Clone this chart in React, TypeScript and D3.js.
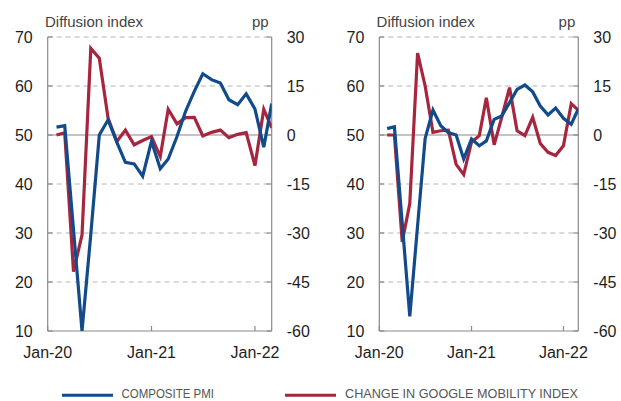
import React from 'react';
import * as d3 from 'd3';

// monthly observations, Feb-20 .. Mar-22
const months = [
    '2020-02', '2020-03', '2020-04', '2020-05', '2020-06', '2020-07', '2020-08', '2020-09', '2020-10', '2020-11', '2020-12',
    '2021-01', '2021-02', '2021-03', '2021-04', '2021-05', '2021-06', '2021-07', '2021-08', '2021-09', '2021-10', '2021-11', '2021-12',
    '2022-01', '2022-02', '2022-03'
];

const leftPmi = [51.6, 51.9, 30.7, 10.0, 29.7, 50.0, 53.1, 48.5, 44.4, 44.1, 41.6,
    48.7, 43.1, 45.1, 49.7, 54.8, 58.9, 62.5, 61.3, 60.6, 57.2, 56.2, 58.4,
    55.3, 47.5, 56.4];
const leftMobility = [0.0, 0.7, -41.8, -30.6, 26.5, 23.5, 5.1, -2.0, 1.5, -3.0, -1.7,
    -0.5, -6.6, 7.9, 3.4, 5.3, 5.4, -0.3, 0.8, 1.5, -0.8, 0.2, 0.7,
    -9.4, 7.9, 2.2];

const rightPmi = [51.3, 51.7, 32.0, 13.0, 31.5, 49.3, 55.1, 51.9, 50.5, 50.0, 45.1,
    49.2, 47.8, 48.8, 53.2, 53.9, 56.6, 59.3, 60.2, 58.8, 55.9, 54.1, 55.5,
    53.4, 52.2, 55.3];
const rightMobility = [0.0, 0.0, -32.7, -21.0, 25.1, 15.0, 0.8, 1.3, 1.5, -9.0, -12.1,
    -2.2, -0.2, 11.4, -3.0, 5.4, 14.5, 1.3, -0.2, 5.4, -2.6, -5.3, -6.3,
    -3.3, 9.6, 7.6];

const leftTicks = [10, 20, 30, 40, 50, 60, 70];
const rightTicks = [-60, -45, -30, -15, 0, 15, 30];
const xTickLabels = ['Jan-20', 'Jan-21', 'Jan-22'];
const xTickDates = ['2020-01', '2021-01', '2022-01'];
const legendLabels = ['COMPOSITE PMI', 'CHANGE IN GOOGLE MOBILITY INDEX'];

const BLUE = '#114b8a';
const RED = '#a6263f';
const FONT = '"Liberation Sans", Arial, Helvetica, sans-serif';

const parseMonth = d3.timeParse('%Y-%m');
const top = 37, bottom = 331;

function Panel({ id, x0, x1, pmi, mobility }) {
    const x = d3.scaleTime()
        .domain([parseMonth('2020-01'), parseMonth('2022-03')])
        .range([x0, x1]);
    const yL = d3.scaleLinear().domain([10, 70]).range([bottom, top]);
    const yR = d3.scaleLinear().domain([-60, 30]).range([bottom, top]);
    const dates = months.map(parseMonth);

    const pmiLine = d3.line().x((d, i) => x(dates[i])).y(d => yL(d));
    const mobLine = d3.line().x((d, i) => x(dates[i])).y(d => yR(d));

    return (
        <g>
            <defs>
                <clipPath id={`clip-${id}`}>
                    <rect x={x0} y={top - 2} width={x1 - x0} height={bottom - top + 2} />
                </clipPath>
            </defs>
            {/* grid */}
            {leftTicks.filter(t => t !== 10 && t !== 50).map(t => (
                <line key={t} x1={x0} x2={x1} y1={yL(t)} y2={yL(t)}
                      stroke="#b4b4b4" strokeWidth={1} strokeDasharray="5,4" />
            ))}
            <line x1={x0} x2={x1} y1={yL(50)} y2={yL(50)} stroke="#8a8a8a" strokeWidth={1.2} />
            <line x1={x0} x2={x1} y1={bottom} y2={bottom} stroke="#8a8a8a" strokeWidth={1.2} />
            <line x1={x0} x2={x0} y1={top} y2={bottom} stroke="#8a8a8a" strokeWidth={1.2} />
            <line x1={x1} x2={x1} y1={top} y2={bottom} stroke="#8a8a8a" strokeWidth={1.2} />
            {leftTicks.map(t => (
                <line key={'l' + t} x1={x0} x2={x0 + 5} y1={yL(t)} y2={yL(t)} stroke="#8a8a8a" strokeWidth={1.2} />
            ))}
            {rightTicks.map(t => (
                <line key={'r' + t} x1={x1 - 5} x2={x1} y1={yR(t)} y2={yR(t)} stroke="#8a8a8a" strokeWidth={1.2} />
            ))}
            {xTickDates.map(d => (
                <line key={d} x1={x(parseMonth(d))} x2={x(parseMonth(d))} y1={bottom} y2={bottom - 5}
                      stroke="#8a8a8a" strokeWidth={1.2} />
            ))}

            {/* series */}
            <g clipPath={`url(#clip-${id})`} fill="none" strokeWidth={3.2} strokeLinejoin="miter">
                <path d={mobLine(mobility)} stroke={RED} />
                <path d={pmiLine(pmi)} stroke={BLUE} />
            </g>

            {/* labels */}
            <g fontFamily={FONT} fontSize={16} fill="#1e1e1e">
                {leftTicks.map(t => (
                    <text key={t} x={x0 - 15} y={yL(t)} dy="0.36em" textAnchor="end">{t}</text>
                ))}
                {rightTicks.map(t => (
                    <text key={t} x={x1 + 15} y={yR(t)} dy="0.36em" textAnchor="start">{t}</text>
                ))}
                {xTickDates.map((d, i) => (
                    <text key={d} x={x(parseMonth(d))} y={358} textAnchor="middle">{xTickLabels[i]}</text>
                ))}
            </g>
            <g fontFamily={FONT} fontSize={15} fill="#444">
                <text x={x0 - 2.7} y={26.5}>Diffusion index</text>
                <text x={x1 - 3} y={26.5} textAnchor="end">pp</text>
            </g>
        </g>
    );
}

function Legend() {
    const items = [
        { label: legendLabels[0], color: BLUE, lx: 62, tx: 121.5, tw: 92.5 },
        { label: legendLabels[1], color: RED, lx: 285, tx: 345, tw: 233 }
    ];
    return (
        <g>
            {items.map(it => (
                <g key={it.label}>
                    <line x1={it.lx} x2={it.lx + 51} y1={395.2} y2={395.2} stroke={it.color} strokeWidth={3} />
                    <text x={it.tx} y={397.5} fontFamily={FONT} fontSize={13.5} fill="#555"
                          textLength={it.tw} lengthAdjust="spacingAndGlyphs">{it.label}</text>
                </g>
            ))}
        </g>
    );
}

export default function App() {
    return (
        <svg width={621} height={401} style={{ position: 'absolute', left: 0, top: 0, background: '#fff' }}>
            <Panel id="a" x0={47.7} x1={271.7} pmi={leftPmi} mobility={leftMobility} />
            <Panel id="b" x0={379.3} x1={578.3} pmi={rightPmi} mobility={rightMobility} />
            <Legend />
        </svg>
    );
}
